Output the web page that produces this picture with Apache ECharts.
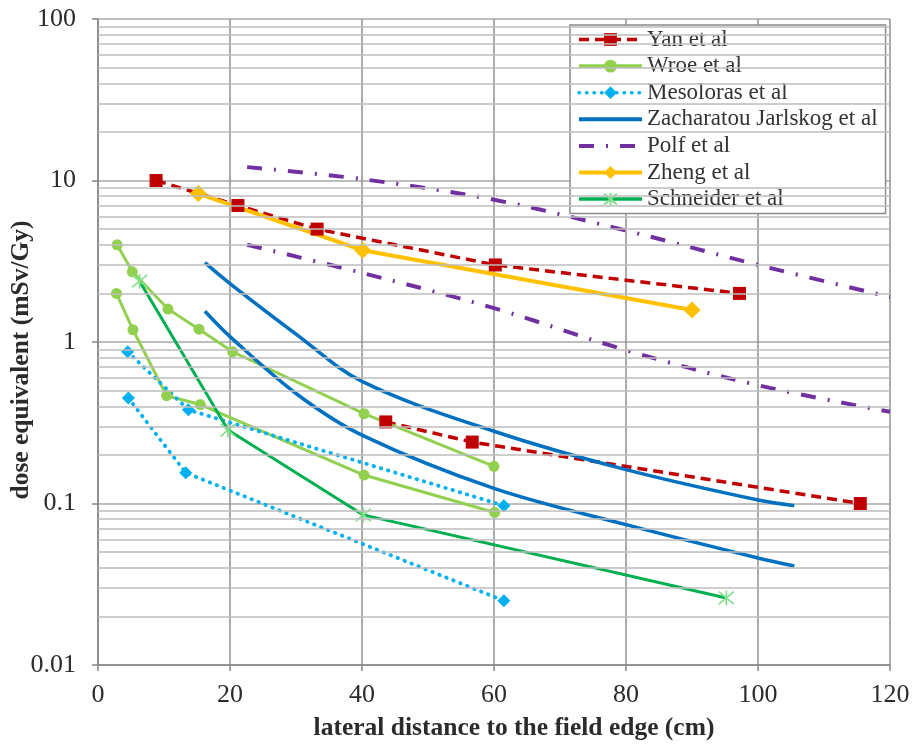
<!DOCTYPE html>
<html>
<head>
<meta charset="utf-8">
<script src="https://cdn.jsdelivr.net/npm/echarts@6/dist/echarts.min.js"></script>
<style>
  html, body { margin: 0; padding: 0; background: #fff; }
  #chart { width: 912px; height: 748px; }
</style>
</head>
<body>
<div id="chart"></div>
<script>
// Lateral distance (cm) vs dose equivalent (mSv/Gy); several studies report two curves.
const yanUpper = [[8.8, 10], [21.2, 7], [33.2, 5], [60.2, 3], [97.2, 2]];
const yanLower = [[43.6, 0.32], [56.7, 0.24], [115.5, 0.1]];
const wroeUpper = [[2.9, 4.0], [5.2, 2.72], [10.6, 1.6], [15.3, 1.2], [20.4, 0.87], [40.3, 0.36], [60.0, 0.17]];
const wroeLower = [[2.8, 2.0], [5.3, 1.19], [10.4, 0.465], [15.5, 0.41], [40.3, 0.15], [60.1, 0.088]];
const mesolorasUpper = [[4.5, 0.87], [13.7, 0.38], [61.5, 0.097]];
const mesolorasLower = [[4.6, 0.45], [13.3, 0.155], [61.5, 0.025]];
const zacharatouUpper = [[16.2, 3.1], [20, 2.3], [30, 1.12], [40, 0.57], [60, 0.28], [80, 0.162], [100, 0.105], [105.5, 0.097]];
const zacharatouLower = [[16.2, 1.55], [20, 1.08], [30, 0.48], [40, 0.265], [60, 0.124], [80, 0.074], [100, 0.046], [105.5, 0.041]];
const polfUpper = [[22.6, 12.1], [40, 10.2], [60, 7.6], [80, 4.9], [100, 3.0], [120, 1.9]];
const polfLower = [[22.6, 4.0], [40, 2.68], [60, 1.62], [80, 0.89], [100, 0.54], [120, 0.37]];
const zheng = [[15.2, 8.3], [40.1, 3.7], [90.0, 1.58]];
const schneider = [[6.3, 2.38], [19.7, 0.285], [40.2, 0.085], [95.2, 0.026]];

const legendNames = ['Yan et al', 'Wroe et al', 'Mesoloras et al', 'Zacharatou Jarlskog et al', 'Polf et al', 'Zheng et al', 'Schneider et al'];
const xTicks = [0, 20, 40, 60, 80, 100, 120];
const yTickLabels = ['0.01', '0.1', '1', '10', '100'];
// minor horizontal gridlines (2..9 within each decade)
const minorGridValues = [
  0.02, 0.03, 0.04, 0.05, 0.06, 0.07, 0.08, 0.09,
  0.2, 0.3, 0.4, 0.5, 0.6, 0.7, 0.8, 0.9,
  2, 3, 4, 5, 6, 7, 8, 9,
  20, 30, 40, 50, 60, 70, 80, 90
];

const serif = '"Liberation Serif", "Times New Roman", serif';
const asterisk = 'path://M0,0L10,10M10,0L0,10M5,-1L5,11';

function curve(name, data, color, lineStyle, symbol) {
  const s = {
    name: name,
    type: 'line',
    data: data,
    z: 3,
    lineStyle: Object.assign({ color: color, width: 3 }, lineStyle),
    itemStyle: { color: color },
    emphasis: { disabled: true },
    animation: false
  };
  if (symbol) {
    s.symbol = symbol.type;
    s.symbolSize = symbol.size;
    s.showSymbol = true;
    if (symbol.itemStyle) s.itemStyle = symbol.itemStyle;
  } else {
    s.symbol = 'none';
    s.showSymbol = false;
    s.smooth = 0.35;
  }
  return s;
}

const yanLine = { type: [10, 6], width: 3.5 };
const mesoLine = { type: [0.5, 7], cap: 'round', width: 3.8 };
const polfLine = { type: [15, 12, 2, 12], width: 4 };

const series = [
  {
    name: 'gridMinor', type: 'line', data: [], z: 1, silent: true,
    markLine: {
      silent: true, symbol: 'none', animation: false,
      label: { show: false },
      lineStyle: { color: '#bdbdbd', width: 1.5, type: 'solid' },
      data: minorGridValues.map(v => ({ yAxis: v }))
    }
  },
  curve('Yan et al', yanUpper, '#C00000', yanLine, { type: 'rect', size: 13 }),
  curve('Yan et al', yanLower, '#C00000', yanLine, { type: 'rect', size: 13 }),
  curve('Wroe et al', wroeUpper, '#92D050', {}, { type: 'circle', size: 11 }),
  curve('Wroe et al', wroeLower, '#92D050', {}, { type: 'circle', size: 11 }),
  curve('Mesoloras et al', mesolorasUpper, '#00B0F0', mesoLine, { type: 'diamond', size: 13 }),
  curve('Mesoloras et al', mesolorasLower, '#00B0F0', mesoLine, { type: 'diamond', size: 13 }),
  curve('Zacharatou Jarlskog et al', zacharatouUpper, '#0070C0', { width: 3.5 }),
  curve('Zacharatou Jarlskog et al', zacharatouLower, '#0070C0', { width: 3.5 }),
  curve('Polf et al', polfUpper, '#7030A0', polfLine),
  curve('Polf et al', polfLower, '#7030A0', polfLine),
  curve('Zheng et al', zheng, '#FFC000', { width: 4 }, { type: 'diamond', size: 17 }),
  curve('Schneider et al', schneider, '#00B050', { width: 3 }, {
    type: asterisk, size: 15,
    itemStyle: { color: 'rgba(0,0,0,0)', borderColor: '#7fe08a', borderWidth: 1.6 }
  })
];

// legend entries: lines without markers get an invisible marker in the legend icon
const hiddenMark = { color: 'rgba(0,0,0,0)', borderWidth: 0, opacity: 0 };
const legendWidths = { 'Yan et al': 3.5, 'Wroe et al': 3.5, 'Mesoloras et al': 3.5, 'Zacharatou Jarlskog et al': 4, 'Polf et al': 4, 'Zheng et al': 4, 'Schneider et al': 3.5 };
const legendData = legendNames.map(n => {
  const item = { name: n, lineStyle: { width: legendWidths[n] } };
  if (n === 'Zacharatou Jarlskog et al' || n === 'Polf et al') item.itemStyle = hiddenMark;
  return item;
});

const chart = echarts.init(document.getElementById('chart'), null, { renderer: 'canvas' });
chart.setOption({
  backgroundColor: '#ffffff',
  animation: false,
  grid: { left: 98, top: 19, width: 792, height: 646, containLabel: false, outerBoundsMode: 'none' },
  legend: {
    data: legendData,
    orient: 'vertical',
    left: 570, top: 25,
    padding: [3, 8, 3, 7],
    itemWidth: 63, itemHeight: 16, itemGap: 3.6,
    backgroundColor: '#ffffff',
    borderColor: '#8a8a8a', borderWidth: 1.5,
    textStyle: { fontFamily: serif, fontSize: 23, color: '#333', lineHeight: 22 },
    selectedMode: false
  },
  xAxis: {
    type: 'value', min: 0, max: 120, interval: 20,
    name: 'lateral distance to the field edge (cm)',
    nameLocation: 'middle', nameGap: 50, nameMoveOverlap: false,
    nameTextStyle: { fontFamily: serif, fontSize: 25.5, fontWeight: 'bold', color: '#2b2b2b', padding: [0, 0, 0, 40] },
    axisLine: { onZero: false, lineStyle: { color: '#868686', width: 1.5 } },
    axisTick: { show: true, inside: false, length: 6, lineStyle: { color: '#868686', width: 1.5 } },
    axisLabel: {
      fontFamily: serif, fontSize: 26, color: '#2b2b2b', margin: 17,
      formatter: v => (xTicks.indexOf(v) >= 0 ? String(v) : '')
    },
    splitLine: { show: true, lineStyle: { color: '#8f8f8f', width: 1.5 } }
  },
  yAxis: {
    type: 'log', logBase: 10, min: 0.01, max: 100,
    name: 'dose equivalent (mSv/Gy)',
    nameLocation: 'middle', nameGap: 64, nameRotate: 90, nameMoveOverlap: false,
    nameTextStyle: { fontFamily: serif, fontSize: 25.5, fontWeight: 'bold', color: '#2b2b2b', padding: [0, 36, 0, 0] },
    axisLine: { show: true, lineStyle: { color: '#868686', width: 1.5 } },
    axisTick: { show: true, inside: false, length: 6, lineStyle: { color: '#868686', width: 1.5 } },
    axisLabel: {
      fontFamily: serif, fontSize: 26, color: '#2b2b2b', margin: 22,
      formatter: v => {
        const e = Math.round(Math.log10(v));
        return yTickLabels[e + 2] !== undefined ? yTickLabels[e + 2] : '';
      }
    },
    splitLine: { show: true, lineStyle: { color: '#a8a8a8', width: 1.5 } }
  },
  series: series
});
</script>
</body>
</html>
